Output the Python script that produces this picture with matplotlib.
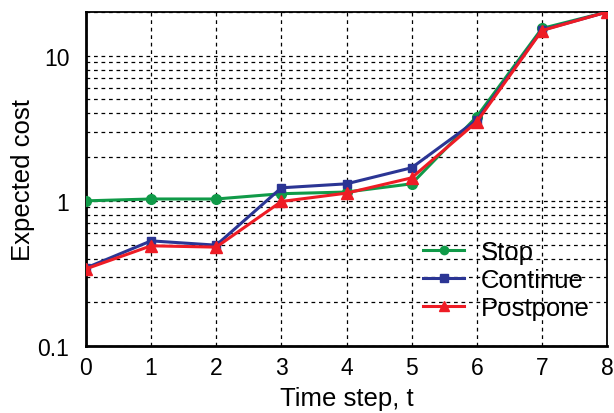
import matplotlib
matplotlib.use('Agg')
import matplotlib.pyplot as plt

plt.rcParams['font.family'] = ['Liberation Sans', 'DejaVu Sans']

# time steps and expected cost per policy
steps = [0, 1, 2, 3, 4, 5, 6, 7, 8]
stop_cost = [1.0, 1.03, 1.03, 1.12, 1.15, 1.31, 3.8, 15.4, 20.0]
continue_cost = [0.345, 0.53, 0.495, 1.23, 1.31, 1.69, 3.6, 15.0, 20.0]
postpone_cost = [0.34, 0.49, 0.48, 0.99, 1.13, 1.44, 3.5, 14.9, 20.0]

xtick_labels = ['0', '1', '2', '3', '4', '5', '6', '7', '8']
ytick_vals = [0.1, 1, 10]
ytick_labels = ['0.1', '1', '10']

fig = plt.figure(figsize=(6.14, 4.14), dpi=100)
ax = fig.add_axes([86/614, 1-347/414, (607-86)/614, (347-13)/414])

ax.plot(steps, stop_cost, color='#109a48', lw=2.2, marker='o', ms=7, label='Stop', zorder=3)
ax.plot(steps, continue_cost, color='#2b3594', lw=2.2, marker='s', ms=6, label='Continue', zorder=4)
ax.plot(steps, postpone_cost, color='#ee1c25', lw=2.2, marker='^', ms=9, label='Postpone', zorder=5)

ax.set_yscale('log')
ax.set_xlim(0, 8)
ax.set_ylim(0.1, 20)
ax.set_xticks(steps)
ax.set_xticklabels(xtick_labels)
ax.set_yticks(ytick_vals)
ax.set_yticklabels(ytick_labels)
ax.grid(True, which='both', color='black', linestyle=(0, (3, 3)), linewidth=0.9)
ax.tick_params(which='both', direction='in', length=0, labelsize=16.5)
ax.tick_params(axis='x', pad=7)
ax.tick_params(axis='y', pad=12)

for side in ['left', 'bottom']:
    ax.spines[side].set_linewidth(2)
for side in ['top', 'right']:
    ax.spines[side].set_linewidth(1.3)

ax.set_xlabel('Time step, t', fontsize=18.5, labelpad=5)
ax.set_ylabel('Expected cost', fontsize=18.5, labelpad=1.5)

ax.legend(loc='upper left', bbox_to_anchor=(423/614, 1-241/414), bbox_transform=fig.transFigure,
          frameon=False, fontsize=18.5, borderpad=0, borderaxespad=0,
          handlelength=1.6, handletextpad=0.65, labelspacing=0.15, markerscale=0.85)

fig.savefig('out.png', dpi=100)
